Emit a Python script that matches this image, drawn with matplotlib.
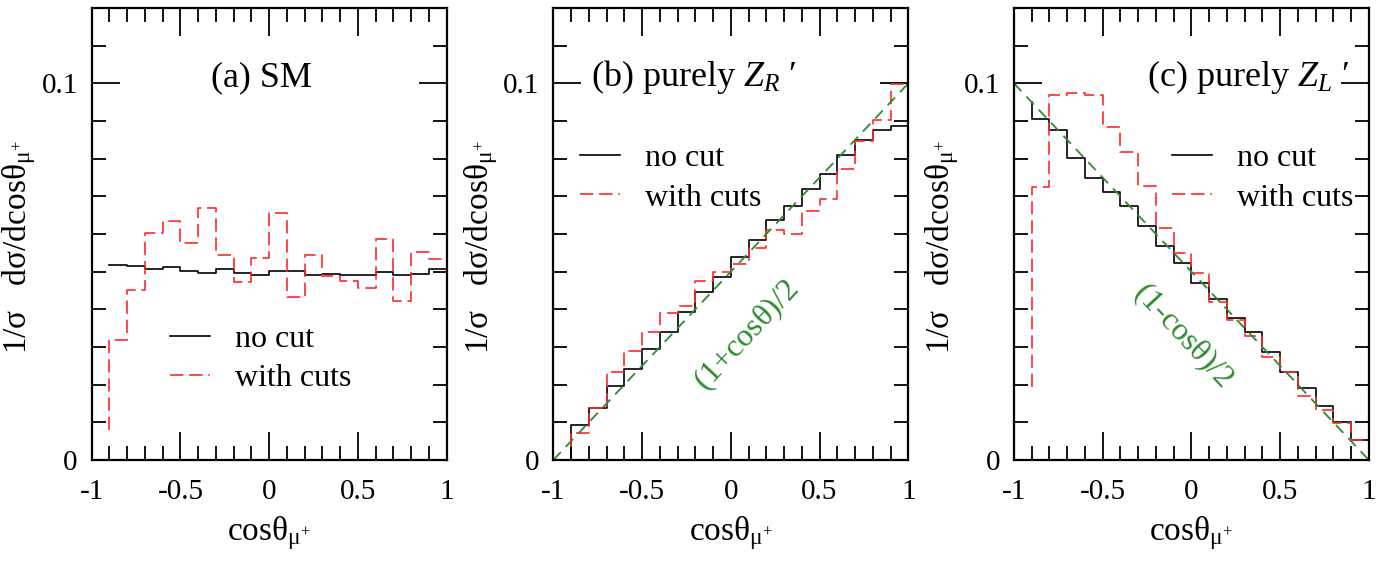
import matplotlib
matplotlib.use("Agg")
import matplotlib.pyplot as plt
import numpy as np
from matplotlib.ticker import MultipleLocator, FixedLocator, FixedFormatter

plt.rcParams['font.family'] = ['Liberation Serif', 'DejaVu Serif']
plt.rcParams['mathtext.fontset'] = 'custom'
plt.rcParams['mathtext.rm'] = 'Liberation Serif'
plt.rcParams['mathtext.it'] = 'Liberation Serif:italic'
plt.rcParams['mathtext.bf'] = 'Liberation Serif:bold'
plt.rcParams['axes.unicode_minus'] = False

# bin edges of the cos(theta) histograms
edges = [-0.9, -0.8, -0.7, -0.6, -0.5, -0.4, -0.3, -0.2, -0.1, 0.0,
         0.1, 0.2, 0.3, 0.4, 0.5, 0.6, 0.7, 0.8, 0.9, 1.0]

# (a) SM
sm_nocut = [0.0517, 0.0515, 0.0508, 0.0513, 0.0501, 0.0497, 0.0506, 0.0497, 0.0490, 0.0501,
            0.0501, 0.0490, 0.0495, 0.0492, 0.0490, 0.0499, 0.0492, 0.0495, 0.0506]
sm_cuts = [0.0319, 0.0451, 0.0602, 0.0634, 0.0575, 0.0670, 0.0543, 0.0472, 0.0537, 0.0655,
           0.0432, 0.0544, 0.0488, 0.0475, 0.0457, 0.0588, 0.0421, 0.0553, 0.0534]
# (b) purely Z_R'
zr_nocut = [0.0093, 0.0139, 0.0196, 0.0241, 0.0294, 0.0341, 0.0394, 0.0446, 0.0487, 0.0538,
            0.0583, 0.0637, 0.0674, 0.0720, 0.0759, 0.0809, 0.0850, 0.0877, 0.0886]
zr_cuts = [0.0071, 0.0139, 0.0233, 0.0289, 0.0341, 0.0391, 0.0409, 0.0474, 0.0500, 0.0521,
           0.0563, 0.0612, 0.0601, 0.0660, 0.0694, 0.0772, 0.0848, 0.0904, 0.0997]
# (c) purely Z_L'
zl_nocut = [0.0906, 0.0877, 0.0801, 0.0748, 0.0712, 0.0674, 0.0621, 0.0567, 0.0523, 0.0469,
            0.0427, 0.0377, 0.0339, 0.0286, 0.0235, 0.0192, 0.0143, 0.0100, 0.0053]
zl_cuts = [0.0726, 0.0969, 0.0975, 0.0969, 0.0883, 0.0819, 0.0727, 0.0615, 0.0549, 0.0497,
           0.0420, 0.0372, 0.0329, 0.0273, 0.0234, 0.0170, 0.0133, 0.0099, 0.0053]

# value at the left edge where each step line begins
start_nocut = [0.0517, 0.0, 0.0951]
start_cuts = [0.008, 0.0035, 0.0195]

titles = ['(a) SM', '(b) purely $Z_R$ \u2032', '(c) purely $Z_L$ \u2032']
title_x = [-0.33, -0.79, -0.25]
nocut_sets = [sm_nocut, zr_nocut, zl_nocut]
cuts_sets = [sm_cuts, zr_cuts, zl_cuts]
legend_anchor = [(0.22, 0.30), (0.075, 0.70), (0.445, 0.70)]

RED = '#ff2a2a'
GREEN = '#2e8b2e'

fig = plt.figure(figsize=(13.92, 5.61), dpi=100)
lefts = [0.0659, 0.3975, 0.7284]

def hist_line(ax, start, vals, **kw):
    xs = np.concatenate([[edges[0]], edges])
    ys = np.concatenate([[start], vals, [vals[-1]]])
    return ax.step(xs, ys, where='post', **kw)[0]

for i in range(3):
    ax = fig.add_axes([lefts[i], 0.18, 0.255, 0.8057])
    l1 = hist_line(ax, start_nocut[i], nocut_sets[i], color='black', lw=1.2, label='no cut')
    l2 = hist_line(ax, start_cuts[i], cuts_sets[i], color=RED, lw=1.2,
                   dashes=(8, 3.5), label='with cuts')
    x = np.array([-1.0, 1.0])
    if i == 1:
        ax.plot(x, 0.1 * (1 + x) / 2, color=GREEN, lw=1.3, dashes=(6, 4))
        ax.text(0.09, 0.033, r'(1+cos$\mathrm{\theta}$)/2', color=GREEN, fontsize=23,
                rotation=47, ha='center', va='center', rotation_mode='anchor')
    if i == 2:
        ax.plot(x, 0.1 * (1 - x) / 2, color=GREEN, lw=1.3, dashes=(6, 4))
        ax.text(-0.05, 0.033, r'(1-cos$\mathrm{\theta}$)/2', color=GREEN, fontsize=23,
                rotation=-47, ha='center', va='center', rotation_mode='anchor')

    ax.text(title_x[i], 0.0993, titles[i], fontsize=26, ha='left', va='baseline')
    ax.legend(handles=[l1, l2], loc='upper left', bbox_to_anchor=legend_anchor[i],
              frameon=False, fontsize=23, handlelength=1.25, handletextpad=0.8,
              labelspacing=0.32, borderpad=0, borderaxespad=0)

    ax.set_xlim(-1, 1)
    ax.set_ylim(0, 0.12)
    ax.xaxis.set_major_locator(FixedLocator([-1, -0.5, 0, 0.5, 1]))
    ax.xaxis.set_major_formatter(FixedFormatter(['-1', '-0.5', '0', '0.5', '1']))
    ax.xaxis.set_minor_locator(MultipleLocator(0.1))
    ax.yaxis.set_major_locator(FixedLocator([0, 0.1]))
    ax.yaxis.set_major_formatter(FixedFormatter(['0', '0.1']))
    ax.yaxis.set_minor_locator(MultipleLocator(0.01))
    ax.tick_params(which='both', direction='in', top=True, right=True, width=1.3,
                   labelsize=21)
    ax.tick_params(which='major', length=20)
    ax.tick_params(which='minor', length=10)
    ax.tick_params(axis='x', which='major', pad=14)
    ax.tick_params(axis='y', which='major', pad=10)
    for s in ax.spines.values():
        s.set_linewidth(1.6)
    ax.set_xlabel(r'cos$\mathrm{\theta_{\mu^{+}}}$', fontsize=24, labelpad=6)
    ax.set_ylabel(r'1/$\mathrm{\sigma}$   d$\mathrm{\sigma}$/dcos$\mathrm{\theta_{\mu^{+}}}$',
                  fontsize=24, labelpad=2)
    ax.yaxis.set_label_coords(-0.15, 0.47)

fig.savefig('out.png', dpi=100)
